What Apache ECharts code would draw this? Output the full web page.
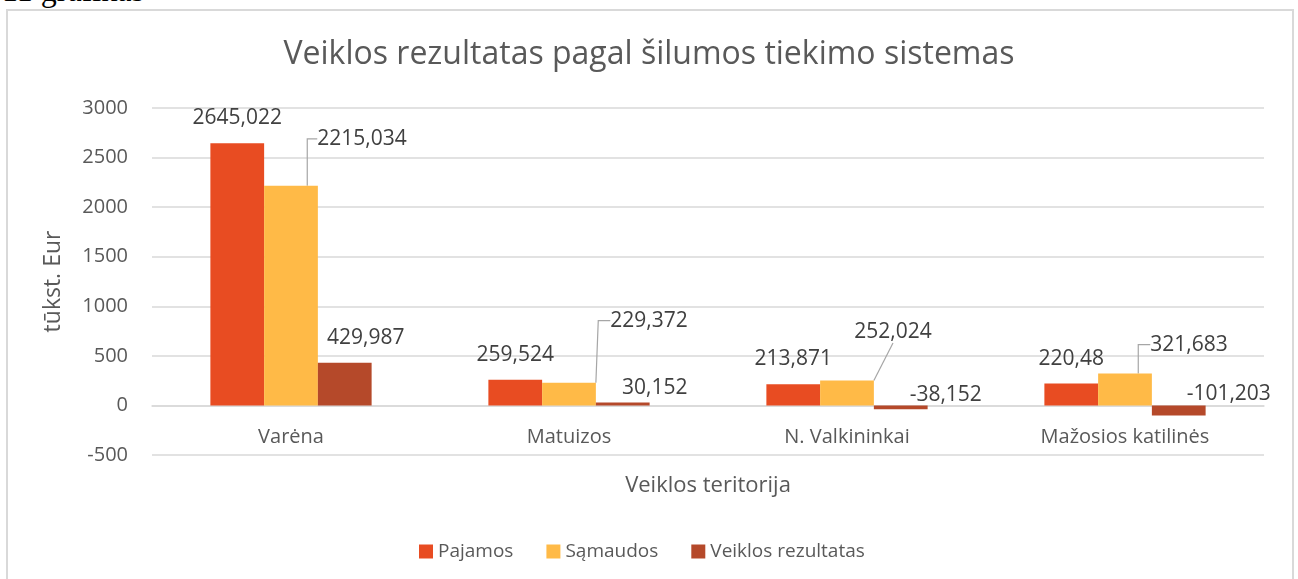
<!DOCTYPE html>
<html>
<head>
<meta charset="utf-8">
<script src="https://cdn.jsdelivr.net/npm/echarts@6/dist/echarts.min.js"></script>
<style>
  html, body { margin: 0; padding: 0; background: #fff; overflow: hidden; }
  #caption {
    position: absolute; left: 2px; top: -26px;
    font-family: "Liberation Serif", serif; font-size: 32px; line-height: 1; color: #000;
  }
  #frame {
    position: absolute; left: 6px; top: 9px; width: 1284px; height: 620px;
    border: 2px solid #d9d9d9;
  }
  #chart { position: absolute; left: 0; top: 0; width: 1298px; height: 579px; }
</style>
</head>
<body>
<div id="caption">11 grafikas</div>
<div id="frame"></div>
<div id="chart"></div>
<script>
// duomenys
const categories = ['Varėna', 'Matuizos', 'N. Valkininkai', 'Mažosios katilinės'];
const pajamos = [2645.022, 259.524, 213.871, 220.48];
const samaudos = [2215.034, 229.372, 252.024, 321.683];
const rezultatas = [429.987, 30.152, -38.152, -101.203];
const seriesNames = ['Pajamos', 'Sąmaudos', 'Veiklos rezultatas'];
const yMin = -500, yMax = 3000, yStep = 500;

// etikečių poslinkiai nuo stulpelio viršaus (dx, dy)
const redOffsets = [[0, -25], [0, -25], [0, -25], [0, -25]];
const yellowOffsets = [[71, -47], [80, -62], [46, -48], [64, -29]];
const brownOffsets = [[21, -25], [32, -14], [45, -10], [50, -11]];
// rodyklių horizontalios dalies ilgis
const leaderLen = [10, 12, 0, 12];

const font = 'Open Sans';
const fmt = (p) => String(p.value).replace('.', ',');

const layoutBy = (offsets) => (params) => {
  const r = params.rect;
  const top = Math.min(r.y, r.y + r.height);
  const o = offsets[params.dataIndex];
  return {
    x: r.x + r.width / 2 + o[0],
    y: top + o[1],
    align: 'center',
    verticalAlign: 'middle'
  };
};

const baseLabel = {
  show: true,
  position: 'top',
  formatter: fmt,
  color: '#404040',
  fontFamily: font,
  fontSize: 21
};

const myChart = echarts.init(document.getElementById('chart'));

const option = {
  animation: false,
  title: {
    text: 'Veiklos rezultatas pagal šilumos tiekimo sistemas',
    left: 'center',
    top: 34,
    textStyle: { color: '#595959', fontFamily: font, fontSize: 32, fontWeight: 'normal' }
  },
  legend: {
    data: seriesNames,
    left: 414,
    top: 537,
    icon: 'rect',
    itemWidth: 14,
    itemHeight: 14,
    itemGap: 33,
    textStyle: { color: '#595959', fontFamily: font, fontSize: 19 }
  },
  grid: { left: 152, right: 34, top: 108, bottom: 124 },
  xAxis: {
    type: 'category',
    data: categories,
    name: 'Veiklos teritorija',
    nameLocation: 'middle',
    nameGap: 20,
    nameTextStyle: { color: '#595959', fontFamily: font, fontSize: 22 },
    axisLine: { onZero: true, lineStyle: { color: '#d9d9d9', width: 1.5 } },
    axisTick: { show: false },
    axisLabel: { color: '#595959', fontFamily: font, fontSize: 20, margin: -28 }
  },
  yAxis: {
    type: 'value',
    min: yMin,
    max: yMax,
    interval: yStep,
    name: 'tūkst. Eur',
    nameLocation: 'middle',
    nameGap: 87,
    nameTextStyle: { color: '#595959', fontFamily: font, fontSize: 23 },
    axisLine: { show: false },
    axisTick: { show: false },
    axisLabel: { color: '#595959', fontFamily: font, fontSize: 20, margin: 24, formatter: (v) => String(v) },
    splitLine: { lineStyle: { color: '#d9d9d9', width: 1.5 } }
  },
  series: [
    {
      name: seriesNames[0],
      type: 'bar',
      data: pajamos,
      barGap: 0,
      barCategoryGap: '42%',
      itemStyle: { color: '#E84C22' },
      label: baseLabel,
      labelLayout: layoutBy(redOffsets)
    },
    {
      name: seriesNames[1],
      type: 'bar',
      data: samaudos.map((v, i) => ({
        value: v,
        labelLine: { show: true, length2: leaderLen[i], lineStyle: { color: '#a6a6a6', width: 1.2 } }
      })),
      barGap: 0,
      barCategoryGap: '42%',
      itemStyle: { color: '#FFBA47' },
      label: baseLabel,
      labelLine: { show: true, lineStyle: { color: '#a6a6a6', width: 1.2 } },
      labelLayout: layoutBy(yellowOffsets)
    },
    {
      name: seriesNames[2],
      type: 'bar',
      data: rezultatas,
      barGap: 0,
      barCategoryGap: '42%',
      itemStyle: { color: '#B5492A' },
      label: baseLabel,
      labelLayout: layoutBy(brownOffsets)
    }
  ]
};

myChart.setOption(option);
window.addEventListener('resize', () => myChart.resize());
</script>
</body>
</html>
